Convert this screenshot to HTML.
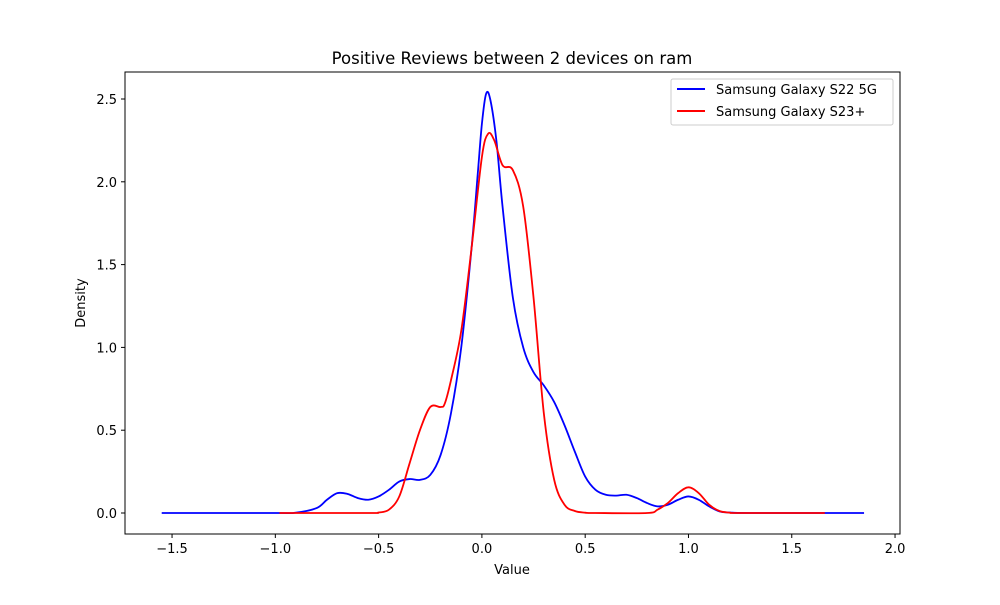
<!DOCTYPE html>
<html><head><meta charset="utf-8"><style>
body{margin:0;background:#fff;}
svg text{font-family:"DejaVu Sans","Liberation Sans",sans-serif;fill:#000;}
</style></head><body>
<svg id="chart" width="1000" height="600" viewBox="0 0 1000 600">
<rect x="0" y="0" width="1000" height="600" fill="#fff"/>
<text x="512" y="64" font-size="16.5" text-anchor="middle">Positive Reviews between 2 devices on ram</text>
<g id="plot"></g>
<rect x="125" y="72" width="775" height="462" fill="none" stroke="#000" stroke-width="1"/>
<text x="512" y="574" font-size="13" text-anchor="middle">Value</text>
<text x="85" y="303" font-size="13" text-anchor="middle" transform="rotate(-90 85 303)">Density</text>
<g>
<rect x="671" y="79" width="222" height="46" fill="#fff" stroke="#ccc" rx="2"/>
<line x1="677" y1="89" x2="705" y2="89" stroke="#0000ff" stroke-width="2"/>
<text x="716" y="94" font-size="13">Samsung Galaxy S22 5G</text>
<line x1="677" y1="111" x2="705" y2="111" stroke="#ff0000" stroke-width="2"/>
<text x="716" y="116" font-size="13">Samsung Galaxy S23+</text>
</g>
</svg>
<script>
const xTicks=[-1.5,-1.0,-0.5,0.0,0.5,1.0,1.5,2.0];
const xTickLabels=["−1.5","−1.0","−0.5","0.0","0.5","1.0","1.5","2.0"];
const yTicks=[0,0.5,1.0,1.5,2.0,2.5];
const yTickLabels=["0.0","0.5","1.0","1.5","2.0","2.5"];
const s22X=[-1.55,-1.0,-0.9,-0.8,-0.75,-0.7,-0.65,-0.6,-0.55,-0.5,-0.45,-0.4,-0.35,-0.3,-0.25,-0.2,-0.15,-0.1,-0.05,-0.02,0,0.02,0.04,0.07,0.1,0.15,0.2,0.25,0.3,0.35,0.4,0.45,0.5,0.55,0.6,0.65,0.7,0.75,0.8,0.85,0.9,0.95,1.0,1.05,1.1,1.15,1.2,1.3,1.85];
const s22Y=[0,0,0.002,0.03,0.08,0.12,0.115,0.09,0.08,0.1,0.14,0.19,0.205,0.2,0.23,0.35,0.6,1.0,1.6,2.05,2.35,2.53,2.5,2.25,1.85,1.3,1.0,0.85,0.77,0.67,0.53,0.37,0.22,0.14,0.11,0.105,0.11,0.09,0.06,0.04,0.05,0.08,0.1,0.08,0.04,0.01,0.003,0,0];
const s23X=[-0.98,-0.55,-0.5,-0.45,-0.4,-0.35,-0.3,-0.25,-0.2,-0.18,-0.15,-0.1,-0.05,0,0.03,0.06,0.1,0.15,0.2,0.25,0.3,0.35,0.4,0.45,0.5,0.55,0.8,0.85,0.9,0.95,1.0,1.05,1.1,1.15,1.2,1.25,1.66];
const s23Y=[0,0,0.003,0.02,0.1,0.3,0.5,0.64,0.64,0.66,0.8,1.1,1.6,2.15,2.29,2.25,2.1,2.07,1.85,1.3,0.6,0.2,0.05,0.012,0.002,0,0,0.02,0.06,0.12,0.155,0.12,0.05,0.012,0.002,0,0];
const NS="http://www.w3.org/2000/svg";
function sx(v){return 481.9+v*206.57;}
function sy(v){return 513-v*165.6;}
const g=document.getElementById('plot');
function path(xs,ys){
 const p=xs.map((x,i)=>[sx(x),sy(ys[i])]);
 let d="M"+p[0][0]+","+p[0][1];
 for(let i=0;i<p.length-1;i++){
  const p0=p[Math.max(0,i-1)],p1=p[i],p2=p[i+1],p3=p[Math.min(p.length-1,i+2)];
  const c1=[p1[0]+(p2[0]-p0[0])/6,p1[1]+(p2[1]-p0[1])/6];
  const c2=[p2[0]-(p3[0]-p1[0])/6,p2[1]-(p3[1]-p1[1])/6];
  d+=` C${c1[0]},${c1[1]} ${c2[0]},${c2[1]} ${p2[0]},${p2[1]}`;
 }
 return d;
}
xTicks.forEach((t,i)=>{
 const l=document.createElementNS(NS,'line');
 l.setAttribute('x1',sx(t));l.setAttribute('x2',sx(t));l.setAttribute('y1',534);l.setAttribute('y2',538);l.setAttribute('stroke','#000');
 
 
 g.appendChild(l);
 const tx=document.createElementNS(NS,'text');
 tx.setAttribute('x',sx(t));tx.setAttribute('y',553);tx.setAttribute('font-size','13');tx.setAttribute('text-anchor','middle');
 tx.textContent=xTickLabels[i];
 
 
 g.appendChild(tx);
});
yTicks.forEach((t,i)=>{
 const l=document.createElementNS(NS,'line');
 l.setAttribute('x1',121);l.setAttribute('x2',125);l.setAttribute('y1',sy(t));l.setAttribute('y2',sy(t));l.setAttribute('stroke','#000');
 
 
 g.appendChild(l);
 const tx=document.createElementNS(NS,'text');
 tx.setAttribute('x',117);tx.setAttribute('y',sy(t)+5);tx.setAttribute('font-size','13');tx.setAttribute('text-anchor','end');
 tx.textContent=yTickLabels[i];
 
 
 g.appendChild(tx);
});
[[s22X,s22Y,'#0000ff','s22-density-line'],[s23X,s23Y,'#ff0000','s23-density-line']].forEach(s=>{
 const p=document.createElementNS(NS,'path');
 p.setAttribute('d',path(s[0],s[1]));p.setAttribute('fill','none');p.setAttribute('stroke',s[2]);p.setAttribute('stroke-width','1.8');
 
 
 g.appendChild(p);
});
</script>
</body></html>
